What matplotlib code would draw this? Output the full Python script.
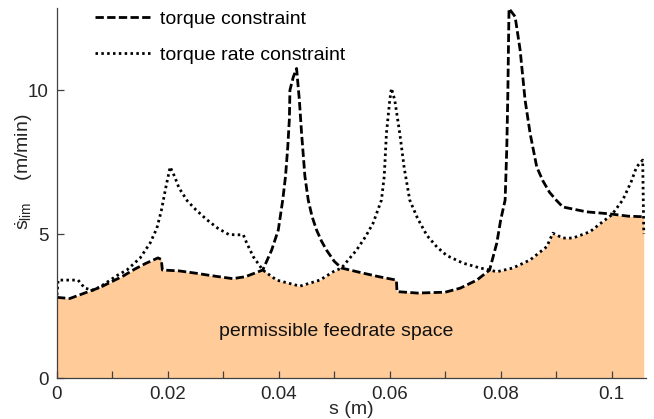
import numpy as np
import matplotlib
matplotlib.use("Agg")
import matplotlib.pyplot as plt
from matplotlib.ticker import MultipleLocator, FuncFormatter

plt.rcParams['font.family'] = ['Liberation Sans', 'DejaVu Sans']
plt.rcParams['mathtext.fontset'] = 'custom'
plt.rcParams['mathtext.rm'] = 'Liberation Sans'
plt.rcParams['mathtext.it'] = 'Liberation Sans'

# torque constraint (dashed)
s_torque = [0, 0.0023, 0.0054, 0.0078, 0.0096, 0.012, 0.014, 0.016, 0.0182, 0.0188,
            0.0190, 0.022, 0.025, 0.028, 0.0317, 0.034, 0.0371, 0.0387, 0.0399, 0.0407,
            0.0412, 0.0416, 0.0419, 0.0420, 0.0426, 0.0432, 0.0434, 0.0437, 0.0441, 0.0447,
            0.0453, 0.046, 0.0468, 0.0477, 0.0486, 0.050, 0.0513, 0.055, 0.058, 0.0612,
            0.0613, 0.065, 0.070, 0.0727, 0.0757, 0.078, 0.0793, 0.0800, 0.0808, 0.0811,
            0.0813, 0.0814, 0.0815, 0.0826, 0.0835, 0.0844, 0.0853, 0.0865, 0.0876, 0.0888,
            0.0900, 0.0912, 0.0955, 0.0997, 0.103, 0.1058]
v_torque = [2.80, 2.76, 2.98, 3.15, 3.32, 3.55, 3.78, 3.98, 4.17, 4.12,
            3.75, 3.72, 3.64, 3.55, 3.45, 3.52, 3.75, 4.44, 5.14, 6.18,
            7.0, 8.0, 9.0, 10.0, 10.45, 10.75, 10.3, 9.65, 8.5, 7.0,
            6.18, 5.6, 5.14, 4.75, 4.44, 4.05, 3.82, 3.65, 3.52, 3.40,
            3.0, 2.95, 2.98, 3.12, 3.4, 3.75, 4.69, 5.49, 6.18, 8.0,
            10.0, 11.5, 12.83, 12.55, 11.4, 9.65, 8.5, 7.33, 6.85, 6.45,
            6.18, 5.94, 5.77, 5.7, 5.62, 5.6]

# torque rate constraint (dotted)
s_rate = [0, 0.0002, 0.0038, 0.005, 0.0065, 0.0078, 0.0096, 0.011, 0.0126, 0.015,
          0.0168, 0.018, 0.0188, 0.0196, 0.0204, 0.0212, 0.022, 0.0235, 0.025, 0.027,
          0.029, 0.031, 0.0336, 0.0342, 0.0354, 0.0371, 0.0396, 0.0438, 0.0474, 0.0498,
          0.0513, 0.054, 0.0556, 0.057, 0.0585, 0.059, 0.0594, 0.0600, 0.0603, 0.0609,
          0.0618, 0.0626, 0.0636, 0.065, 0.0667, 0.0685, 0.0703, 0.0732, 0.0763, 0.078,
          0.0793, 0.0822, 0.0853, 0.0883, 0.0894, 0.0912, 0.093, 0.0961, 0.0984, 0.1,
          0.102, 0.1035, 0.1045, 0.1056, 0.1058]
v_rate = [2.88, 3.4, 3.4, 3.12, 3.05, 3.17, 3.4, 3.58, 3.75, 4.17,
          4.69, 5.2, 5.8, 6.6, 7.33, 7.0, 6.6, 6.15, 5.85, 5.5,
          5.2, 4.98, 4.97, 4.69, 4.21, 3.75, 3.40, 3.19, 3.40, 3.69,
          3.82, 4.44, 4.9, 5.38, 6.18, 7.0, 8.5, 9.65, 10.06, 9.65,
          8.5, 7.3, 6.18, 5.55, 4.95, 4.55, 4.25, 3.99, 3.82, 3.75,
          3.69, 3.82, 4.1, 4.56, 5.03, 4.86, 4.86, 5.08, 5.43, 5.66,
          6.18, 6.8, 7.33, 7.57, 5.0]

labels = ['torque constraint', 'torque rate constraint']
x_ticks = [0, 0.02, 0.04, 0.06, 0.08, 0.1]
y_ticks = [0, 5, 10]

fig = plt.figure(figsize=(6.54, 4.19), dpi=100)
ax = fig.add_axes([57/654, 1-378/419, (646-57)/654, (378-8)/419])

# permissible region = lower envelope of both constraints
grid = np.union1d(s_torque, s_rate[:-1])
env = np.minimum(np.interp(grid, s_torque, v_torque), np.interp(grid, s_rate[:-1], v_rate[:-1]))
ax.fill_between(grid, 0, env, color='#FFCB98', lw=0, zorder=1)

ax.plot(s_torque, v_torque, color='k', lw=2, dashes=(3, 1.2), label=labels[0], zorder=3, clip_on=False)
ax.plot(s_rate, v_rate, color='k', lw=2, dashes=(0.9, 1.2), label=labels[1], zorder=3)

ax.text(0.0504, 1.6, 'permissible feedrate space', fontsize=14, ha='center', va='center', color='#111111')

ax.set_xlim(0, 0.1062)
ax.set_ylim(0, 12.85)
ax.set_xticks(x_ticks)
ax.xaxis.set_major_formatter(FuncFormatter(lambda v, p: '%g' % round(v, 3)))
ax.xaxis.set_minor_locator(MultipleLocator(0.01))
ax.set_yticks(y_ticks)

for side in ['top', 'right']:
    ax.spines[side].set_visible(False)
for side in ['left', 'bottom']:
    ax.spines[side].set_color('#404040')
    ax.spines[side].set_linewidth(0.9)
    ax.spines[side].set_zorder(4)

ax.tick_params(which='both', direction='in', length=5, width=0.9, color='#404040',
               labelsize=13.5, labelcolor='#262626', pad=6)

ax.set_xlabel('s (m)', fontsize=14, color='#262626', labelpad=-2)
ax.set_ylabel(r'$\dot{\mathrm{s}}_{\mathrm{lim}}$    (m/min)', fontsize=14, color='#262626')
ax.yaxis.set_label_coords(-0.037, 0.557)

ax.legend(loc='upper left', bbox_to_anchor=(95/654, 1-10/419), bbox_transform=fig.transFigure,
          frameon=False, fontsize=14, handlelength=3.0, handletextpad=0.35,
          labelspacing=0.98, borderpad=0, borderaxespad=0)

fig.savefig('out.png', dpi=100)
